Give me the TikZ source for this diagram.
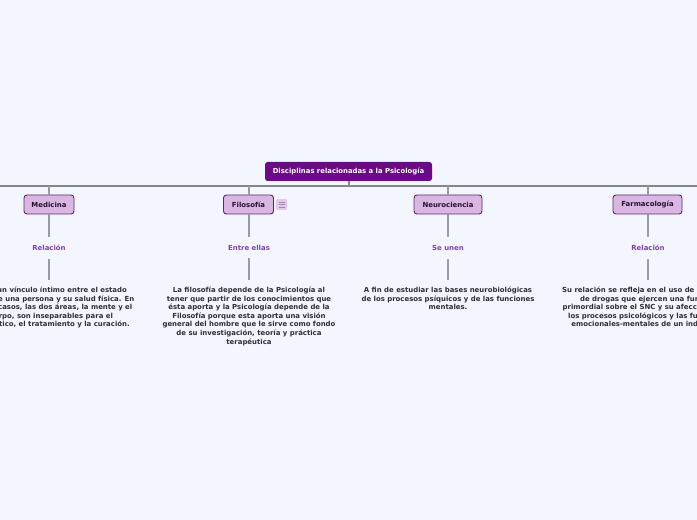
\documentclass[tikz,border=0pt]{standalone}
\usepackage{fontspec}
\usetikzlibrary{calc}
\setmainfont{DejaVu Sans}
\definecolor{bgc}{HTML}{F4F6FF}
\definecolor{rootc}{HTML}{6A0A86}
\definecolor{boxc}{HTML}{DAB6E2}
\definecolor{boxline}{HTML}{5A2A6C}
\definecolor{linec}{HTML}{9A9AA4}
\definecolor{trunkc}{HTML}{85858A}
\definecolor{labelc}{HTML}{7F42AC}
\definecolor{darktxt}{HTML}{2A1030}
\definecolor{bodytxt}{HTML}{2E2E36}
\tikzset{
  x=0.75pt,y=-0.75pt,
  rootbox/.style={draw=none,fill=rootc,rounded corners=2pt,text=white,font=\fontsize{5.15}{6}\selectfont\bfseries,minimum width=125.25pt,minimum height=14.25pt,inner sep=0pt},
  topicbox/.style={draw=boxline,line width=0.7pt,fill=boxc,rounded corners=2.2pt,text=darktxt,font=\fontsize{5.2}{6}\selectfont\bfseries,minimum height=14.25pt,inner sep=0pt},
  linklabel/.style={text=labelc,font=\fontsize{5.2}{6}\selectfont\bfseries,minimum height=15.75pt,inner sep=0pt,minimum width=30pt},
  bodytext/.style={text=bodytxt,font=\fontsize{5.2}{6.45}\selectfont\bfseries,align=center,anchor=north,inner xsep=0pt,inner ysep=5pt},
  stem/.style={draw=linec,line width=1.05pt},
  trunk/.style={draw=trunkc,line width=1.2pt}
}
\begin{document}
\begin{tikzpicture}
\useasboundingbox (0,0) rectangle (697,520);
\fill[bgc] (0,0) rectangle (697,520);
\clip (0,0) rectangle (697,520);
\coordinate (barL) at (0,186);
\coordinate (barR) at (697,186);
\coordinate (barC) at (349,186);
\node[rootbox] (root) at (348.5,171.5) {Disciplinas relacionadas a la Psicología};
\coordinate (b1) at (49,186);
\coordinate (b2) at (249,186);
\coordinate (b3) at (448,186);
\coordinate (b4) at (648,186);
\node[topicbox,minimum width=37.5pt] (t1) at (49,204.5) {Medicina};
\node[topicbox,minimum width=37.5pt] (t2) at (248.5,204.5) {Filosofía};
\node[topicbox,minimum width=51pt] (t3) at (448,204.5) {Neurociencia};
\node[topicbox,minimum width=51.75pt] (t4) at (647.5,204.5) {Farmacología};
\node[linklabel] (l1) at (49,248) {Relación};
\node[linklabel] (l2) at (249,247.5) {Entre ellas};
\node[linklabel] (l3) at (448,248) {Se unen};
\node[linklabel] (l4) at (648,248) {Relación};
\node[bodytext] (x1) at (49,280) {Existe un vínculo íntimo entre el estado\\mental de una persona y su salud física. En\\muchos casos, las dos áreas, la mente y el\\cuerpo, son inseparables para el\\diagnóstico, el tratamiento y la curación.};
\node[bodytext] (x2) at (249,280) {La filosofía depende de la Psicología al\\tener que partir de los conocimientos que\\ésta aporta y la Psicología depende de la\\Filosofía porque esta aporta una visión\\general del hombre que le sirve como fondo\\de su investigación, teoría y práctica\\terapéutica};
\node[bodytext] (x3) at (448,280) {A fin de estudiar las bases neurobiológicas\\de los procesos psíquicos y de las funciones\\mentales.};
\node[bodytext] (x4) at (648,280) {Su relación se refleja en el uso de una clase\\de drogas que ejercen una función\\primordial sobre el SNC y su afección sobre\\los procesos psicológicos y las funciones\\emocionales-mentales de un individuo.};
\draw[trunk] (barL) -- (barR);
\draw[stem,draw=trunkc] (root.south -| barC) -- (barC);
\foreach \i in {1,2,3,4}{
  \draw[stem] (b\i) -- (t\i.north -| b\i);
  \draw[stem] (t\i.south -| b\i) -- (l\i.north -| b\i);
  \draw[stem] (l\i.south -| b\i) -- (x\i.north -| b\i);
}
\node[fill=boxc!75,rounded corners=1pt,minimum size=8.2pt,inner sep=0pt] (icon) at (281.7,204.5) {};
\foreach \d in {-2.4,0,2.4}
  \draw[draw=boxline!55,line width=0.45pt] ($(icon.center)+(-3,\d)$) -- ($(icon.center)+(3,\d)$);
\end{tikzpicture}
\end{document}
